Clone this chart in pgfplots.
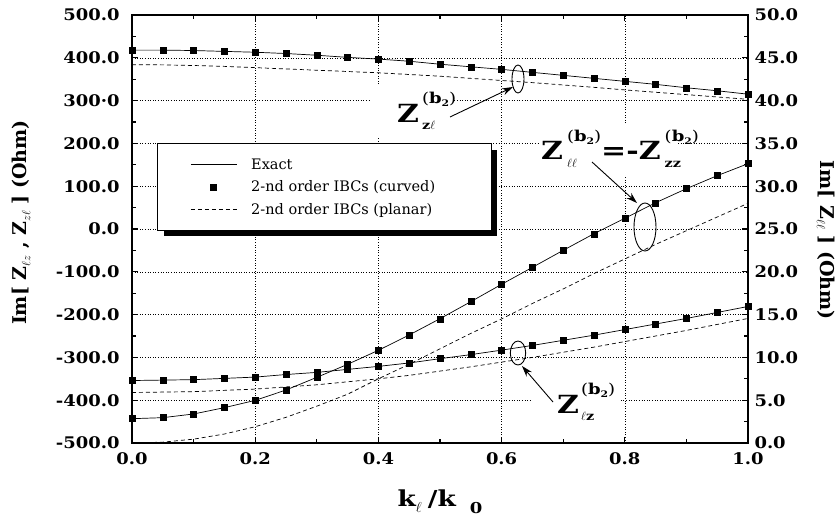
\documentclass[border=0pt]{standalone}
\usepackage{fontspec}
\setmainfont{DejaVu Serif}
\newfontfamily\tickfont{DejaVu Serif}[FakeStretch=1.12]
\newfontfamily\lblfont{DejaVu Serif}[FakeStretch=1.2]
\usepackage{pgfplots}
\usepackage{pgfplotstable}
\pgfplotsset{compat=1.18}
\usetikzlibrary{arrows.meta}
\pgfdeclarelayer{background}
\pgfsetlayers{background,main}

% superscript (b2) with a subscript below it
\newcommand{\SupSub}[2]{%
  \hspace{#1}%
  \rlap{\raisebox{-7pt}{\fontsize{12}{13}\selectfont #2}}%
  \raisebox{19pt}{\fontsize{15}{16}\selectfont\mdseries(\textbf{b}\raisebox{-3pt}{\fontsize{9}{10}\selectfont\bfseries 2})}}
\newcommand{\Zlab}[2]{{\fontsize{25}{28}\selectfont Z}\SupSub{#1}{#2}}

\pgfplotstableread{
x     zl     zld    lz     lzd    ll     lld
0.00  418    384    -354   -382   2.84   0.00
0.05  418    383.5  -353   -381   2.96   0.10
0.10  417    382    -352   -380   3.39   0.45
0.15  415    380    -349   -377   4.13   1.05
0.20  413    377    -346   -374   4.98   1.90
0.25  410    374    -340   -369   6.19   3.00
0.30  406    371    -335   -364   7.67   4.30
0.35  401    368    -328   -357   9.19   5.70
0.40  397    365    -321   -350   10.83  7.50
0.45  392    361    -313   -342   12.62  9.20
0.50  385    357    -303   -332   14.52  11.00
0.55  379    352    -293.5 -322   16.51  12.80
0.60  373    347    -283   -311   18.54  14.50
0.65  366    342    -272   -300   20.52  16.30
0.70  359    336.5  -260   -288   22.51  18.00
0.75  352    331    -248   -276   24.45  19.80
0.80  345    325    -235   -263   26.25  21.50
0.85  338    319.5  -222   -250   28.07  23.20
0.90  330    314    -209   -237   29.71  24.80
0.95  323    308.5  -195   -223   31.23  26.40
1.00  315    303    -181   -209   32.63  28.00
}\data

\pgfplotsset{
  common/.style={
    width=616pt, height=428pt, scale only axis,
    xmin=0, xmax=1,
    tick align=inside,
    axis line style={line width=1.6pt},
    every tick/.style={black, line width=1.1pt},
    major tick length=6pt, minor tick length=4pt,
    ticklabel style={font=\tickfont\bfseries\fontsize{16}{18}\selectfont},
  },
  legend image code/.code={%
    \path (0pt,0pt) (46pt,0pt);
    \draw[mark repeat=2,mark phase=2,#1] plot coordinates {(0pt,0pt) (23pt,0pt) (46pt,0pt)};},
}

\begin{document}
\begin{tikzpicture}
\useasboundingbox (-132pt,-80pt) rectangle (707pt,443pt);
\begin{axis}[common,
  ymin=-500, ymax=500,
  xtick={0,0.2,0.4,0.6,0.8,1.0},
  xticklabels={0.0,0.2,0.4,0.6,0.8,1.0},
  minor x tick num=1,
  xtick pos=both,
  ytick={-500,-400,...,500},
  yticklabels={-500.0,-400.0,-300.0,-200.0,-100.0,0.0,100.0,200.0,300·0,400.0,500.0},
  minor y tick num=1,
  ytick pos=left,
  xticklabel style={yshift=-6pt},
  yticklabel style={xshift=-9pt},
  grid=major,
  grid style={black, line width=0.6pt, dash pattern=on 0.8pt off 1.8pt},
  xlabel={\lblfont\bfseries\fontsize{22}{24}\selectfont k\raisebox{-6pt}{\fontsize{15}{16}\selectfont$\ell$}\hspace{6pt}/k\hspace{14pt}\raisebox{-7pt}{\fontsize{15}{16}\selectfont 0}},
  xlabel style={at={(axis description cs:0.5,-0.138)}, anchor=center},
  ylabel={\bfseries\fontsize{19}{22}\selectfont Im[ Z\raisebox{-4pt}{\fontsize{12}{13}\selectfont\mdseries$\ell z$} , Z\raisebox{-4pt}{\fontsize{12}{13}\selectfont\mdseries$z\ell$} ] (Ohm)},
  ylabel style={at={(axis description cs:-0.180,0.515)}, anchor=center},
  legend style={at={(axis description cs:0.0406,0.7009)}, anchor=north west,
    draw=black, line width=0.8pt, fill=white,
    inner xsep=33pt, inner ysep=14.5pt, row sep=10pt, column sep=14pt,
    nodes={inner sep=0pt}},
  legend cell align=left,
]
\addlegendimage{black, line width=0.7pt}
\addlegendentry{\fontsize{14.5}{16}\selectfont\makebox[207pt][l]{\strut Exact}}
\addlegendimage{black, only marks, mark=square*, mark size=3pt}
\addlegendentry{\fontsize{14.5}{16}\selectfont\makebox[207pt][l]{\strut 2-nd order IBCs (curved)}}
\addlegendimage{black, line width=0.7pt, dash pattern=on 4pt off 3pt}
\addlegendentry{\fontsize{14.5}{16}\selectfont\makebox[207pt][l]{\strut 2-nd order IBCs (planar)}}

\addplot[forget plot, black, line width=0.7pt, dash pattern=on 4pt off 3pt] table[x=x,y=zld]{\data};
\addplot[forget plot, black, line width=0.7pt, dash pattern=on 4pt off 3pt] table[x=x,y=lzd]{\data};
\addplot[forget plot, black, line width=0.7pt] table[x=x,y=zl]{\data};
\addplot[forget plot, black, line width=0.7pt] table[x=x,y=lz]{\data};
\addplot[forget plot, black, only marks, mark=square*, mark size=3pt] table[x=x,y=zl]{\data};
\addplot[forget plot, black, only marks, mark=square*, mark size=3pt] table[x=x,y=lz]{\data};
\end{axis}

\begin{axis}[common,
  ymin=0, ymax=50,
  axis x line=none,
  axis y line*=right,
  ytick={0,5,...,50},
  yticklabels={0.0,5.0,10.0,15.0,20.0,25.0,30.0,35.0,40.0,45.0,50.0},
  minor y tick num=1,
  yticklabel style={xshift=3pt},
  ylabel={\bfseries\fontsize{19}{22}\selectfont Im[ Z\raisebox{-4pt}{\fontsize{12}{13}\selectfont\mdseries$\ell\ell$} ] (Ohm)},
  ylabel style={at={(axis description cs:1.1266,0.474)}, anchor=center, rotate=180},
]
\addplot[black, line width=0.7pt, dash pattern=on 4pt off 3pt] table[x=x,y=lld]{\data};
\addplot[black, line width=0.7pt] table[x=x,y=ll]{\data};
\addplot[black, only marks, mark=square*, mark size=3pt] table[x=x,y=ll]{\data};
\end{axis}

% legend shadow
\begin{pgfonlayer}{background}
\fill[black] (32pt,207pt) rectangle (365pt,293pt);
\end{pgfonlayer}

% annotation boxes (white) hiding the grid
\fill[white] (238pt,306pt) rectangle (321pt,358pt);
\fill[white] (408pt,268pt) rectangle (546pt,318pt);
\fill[white] (400pt,14pt) rectangle (488pt,62pt);

% labels
\node[anchor=base west, inner sep=0pt, font=\lblfont\bfseries] at (265pt,320pt)
  {\Zlab{3pt}{z$\ell$}};
\node[anchor=base west, inner sep=0pt, font=\lblfont\bfseries] at (409pt,283pt)
  {\Zlab{4pt}{$\ell\ell$}{\fontsize{25}{28}\selectfont =-Z}\SupSub{4pt}{zz}};
\node[anchor=base west, inner sep=0pt, font=\lblfont\bfseries] at (425pt,30pt)
  {\Zlab{2pt}{$\ell$z}};

% ellipses
\draw[line width=0.9pt] (386pt,364pt) ellipse [x radius=6pt, y radius=14pt];
\draw[line width=0.9pt] (513pt,216pt) ellipse [x radius=11pt, y radius=24pt];
\draw[line width=0.9pt] (386pt,90pt) ellipse [x radius=7.7pt, y radius=12pt];

% arrows
\draw[line width=0.9pt, -{Stealth[length=11pt,width=7pt]}] (318pt,326pt) -- (381pt,356pt);
\draw[line width=0.9pt, -{Stealth[length=11pt,width=7pt]}] (460pt,281pt) -- (505pt,240pt);
\draw[line width=0.9pt, -{Stealth[length=11pt,width=7pt]}] (421pt,41pt) -- (390pt,77pt);
\end{tikzpicture}
\end{document}
